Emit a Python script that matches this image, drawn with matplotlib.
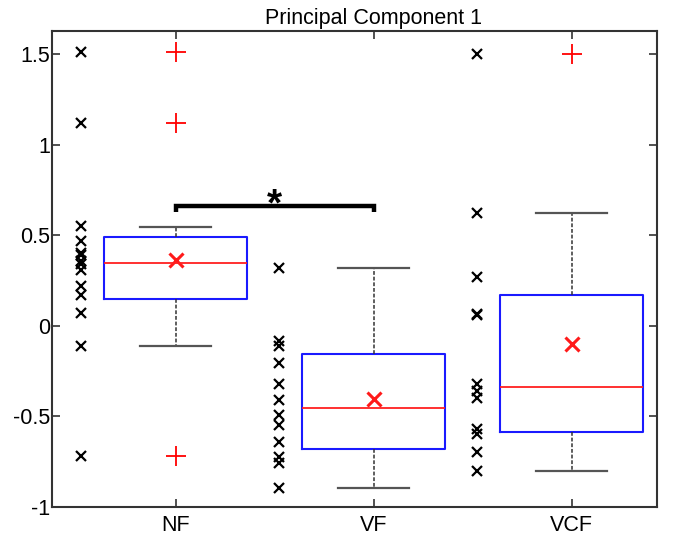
import numpy as np
import matplotlib
matplotlib.use('Agg')
import matplotlib.pyplot as plt
from matplotlib.transforms import blended_transform_factory

plt.rcParams['font.family'] = ['Liberation Sans', 'DejaVu Sans']
plt.rcParams['axes.unicode_minus'] = False

# %% data
groups = ['NF', 'VF', 'VCF']
nf = [1.51, 1.12, 0.55, 0.47, 0.40, 0.39, 0.36, 0.34, 0.31, 0.22, 0.17, 0.07, -0.11, -0.72]
vf = [0.32, -0.085, -0.11, -0.205, -0.32, -0.41, -0.495, -0.55, -0.64, -0.725, -0.76, -0.895]
vcf = [1.50, 0.62, 0.27, 0.065, 0.06, -0.32, -0.36, -0.40, -0.57, -0.60, -0.70, -0.80]

# box statistics as drawn
q1 = [0.146, -0.683, -0.587]
med = [0.346, -0.455, -0.339]
q3 = [0.490, -0.159, 0.168]
whislo = [-0.113, -0.899, -0.800]
whishi = [0.546, 0.320, 0.622]
outliers = [[1.51, 1.12, -0.72], [], [1.50]]

# %%
fig = plt.figure(figsize=(6.75, 5.35), dpi=100)
ax = fig.add_axes([51.7/675, 1 - 506.7/535, (657 - 51.7)/675, (506.7 - 30.7)/535])

pos = np.arange(1, 4)
stats = []
for i in range(3):
    stats.append(dict(q1=q1[i], med=med[i], q3=q3[i], whislo=whislo[i],
                      whishi=whishi[i], fliers=outliers[i]))

ax.bxp(stats, positions=pos, widths=0.72, capwidths=0.36, showfliers=True,
       boxprops=dict(color='#1a1aff', lw=1.5),
       medianprops=dict(color='#ff2020', lw=1.3),
       whiskerprops=dict(color='#333333', lw=1.1, ls=(0, (2.5, 1.2))),
       capprops=dict(color='#555555', lw=1.6),
       flierprops=dict(marker='+', markeredgecolor='red', markersize=14,
                       markeredgewidth=1.3, ls='none'))

data = [nf, vf, vcf]
for i, d in enumerate(data):
    ax.plot(np.full(len(d), pos[i] - 0.476), d, 'x', color='k', ms=6.5, mew=1.6)
    ax.plot(pos[i], np.mean(d), 'x', color='#ff1a1a', ms=9.5, mew=2.2)

# significance bar NF vs VF
ax.plot([1, 1, 2, 2], [0.628, 0.662, 0.662, 0.628], color='k', lw=3.2,
        solid_capstyle='butt', solid_joinstyle='miter')
ax.text(1.5, 0.607, '*', fontsize=28, fontweight='bold', ha='center', va='baseline')

ax.set_xlim(0.374, 3.431)
ax.set_ylim(-1.0, 1.63)
ax.set_xticks(pos)
ax.set_xticklabels(groups)
ax.set_yticks([-1, -0.5, 0, 0.5, 1, 1.5])
ax.set_yticklabels(['-1', '-0.5', '0', '0.5', '1', '1.5'])
ax.tick_params(direction='in', length=6, width=1.2, color='#333333',
               labelsize=15.5, top=True, right=True)
ax.tick_params(axis='y', pad=1)
ax.tick_params(axis='x', pad=6)
for s in ax.spines.values():
    s.set_color('#333333')
    s.set_linewidth(1.5)

trans = blended_transform_factory(ax.transData, ax.transAxes)
ax.text(2, 1.0147, 'Principal Component 1', transform=trans, ha='center',
        va='baseline', fontsize=15.5)

fig.savefig('out.png', dpi=100)
